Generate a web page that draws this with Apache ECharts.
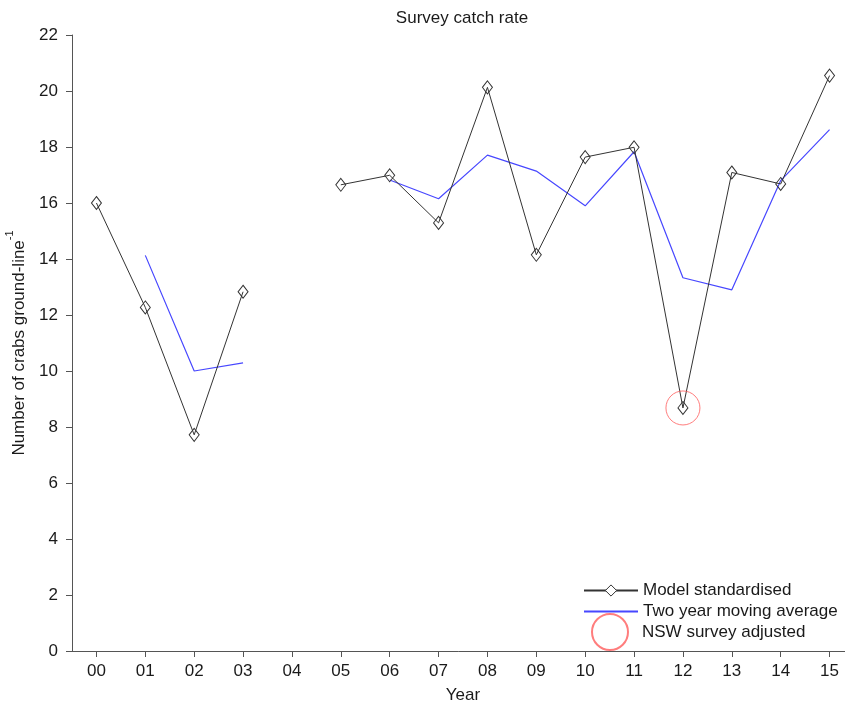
<!DOCTYPE html>
<html>
<head>
<meta charset="utf-8">
<title>Survey catch rate</title>
<script src="https://cdn.jsdelivr.net/npm/echarts@6/dist/echarts.min.js"></script>
<style>
  html, body { margin: 0; padding: 0; background: #fff; }
  #chart { width: 845px; height: 707px; }
</style>
</head>
<body>
<div id="chart"></div>
<script>
// Survey years (two-digit labels)
const years = ['00', '01', '02', '03', '04', '05', '06', '07', '08', '09', '10', '11', '12', '13', '14', '15'];

// Model standardised catch rate (crabs per ground-line); no survey in 04
const modelStandardised = [16.0, 12.27, 7.72, 12.83, null, 16.65, 16.99, 15.29, 20.13, 14.15, 17.64, 17.99, 8.68, 17.09, 16.68, 20.55];

// Two year moving average of the standardised rate
const movingAverage = [null, 14.13, 10.0, 10.29, null, null, 16.82, 16.15, 17.71, 17.14, 15.9, 17.83, 13.33, 12.9, 16.8, 18.62];

// Years where the NSW survey value was adjusted
const adjustedYears = ['12'];
const adjustedValues = [8.68];

const FONT = 'Liberation Sans, Arial, sans-serif';
const TEXT = '#1a1a1a';
const AXIS = '#555';

const chart = echarts.init(document.getElementById('chart'), null, { renderer: 'canvas' });

chart.setOption({
  animation: false,
  backgroundColor: '#fff',
  textStyle: { fontFamily: FONT },
  title: {
    text: 'Survey catch rate',
    left: 457,
    top: 5,
    textAlign: 'center',
    textStyle: { fontSize: 17, fontWeight: 'normal', color: TEXT, fontFamily: FONT }
  },
  grid: {
    left: 72,
    right: -9,
    top: 35,
    bottom: 56,
    containLabel: false,
    outerBoundsMode: 'none'
  },
  legend: [
    {
      orient: 'vertical',
      left: 578,
      top: 577,
      itemWidth: 54,
      itemHeight: 14,
      itemGap: 4,
      data: [
        { name: 'Model standardised', itemStyle: { color: '#fff', borderColor: '#333', borderWidth: 1 } },
        // moving average is drawn as a plain line in the key
        { name: 'Two year moving average', itemStyle: { opacity: 0 } }
      ],
      textStyle: { fontSize: 17, color: TEXT, fontFamily: FONT }
    },
    {
      orient: 'vertical',
      left: 586,
      top: 608,
      itemWidth: 54,
      itemHeight: 36,
      data: ['NSW survey adjusted'],
      textStyle: { fontSize: 17, color: TEXT, fontFamily: FONT }
    }
  ],
  xAxis: {
    type: 'category',
    data: years,
    boundaryGap: true,
    name: 'Year',
    nameLocation: 'middle',
    nameGap: 36,
    nameTextStyle: { fontSize: 17, color: TEXT, fontFamily: FONT },
    axisLine: { show: true, lineStyle: { color: AXIS, width: 1 } },
    axisTick: { show: true, alignWithLabel: true, length: 6, lineStyle: { color: AXIS } },
    axisLabel: { fontSize: 17, color: TEXT, margin: 12, fontFamily: FONT },
    splitLine: { show: false }
  },
  yAxis: {
    type: 'value',
    min: 0,
    max: 22,
    interval: 2,
    name: '{a|Number of crabs ground-line}{s|-1}',
    nameLocation: 'middle',
    nameGap: 41,
    nameRotate: 90,
    nameTextStyle: {
      color: TEXT,
      fontFamily: FONT,
      rich: {
        a: { fontSize: 17, lineHeight: 24, color: TEXT, fontFamily: FONT, verticalAlign: 'bottom' },
        s: { fontSize: 11, lineHeight: 24, color: TEXT, fontFamily: FONT, verticalAlign: 'top', padding: [0, 0, 6, 0] }
      }
    },
    axisLine: { show: true, lineStyle: { color: AXIS, width: 1 } },
    axisTick: { show: true, length: 6, lineStyle: { color: AXIS } },
    axisLabel: { fontSize: 17, color: TEXT, margin: 14, fontFamily: FONT },
    splitLine: { show: false }
  },
  series: [
    {
      name: 'Two year moving average',
      type: 'line',
      data: movingAverage,
      symbol: 'none',
      connectNulls: false,
      lineStyle: { color: '#4747ff', width: 1.2 },
      itemStyle: { color: '#4747ff' },
      z: 2
    },
    {
      name: 'Model standardised',
      type: 'line',
      data: modelStandardised,
      symbol: 'diamond',
      symbolSize: [10, 13],
      showAllSymbol: true,
      connectNulls: false,
      lineStyle: { color: '#333', width: 1 },
      itemStyle: { color: 'rgba(255,255,255,0)', borderColor: '#333', borderWidth: 1 },
      z: 3
    },
    {
      name: 'NSW survey adjusted',
      type: 'scatter',
      data: adjustedYears.map((y, i) => [y, adjustedValues[i]]),
      symbol: 'circle',
      symbolSize: 34,
      itemStyle: { color: 'rgba(255,255,255,0)', borderColor: '#ff5c5c', borderWidth: 1 },
      z: 4
    }
  ]
});
</script>
</body>
</html>
